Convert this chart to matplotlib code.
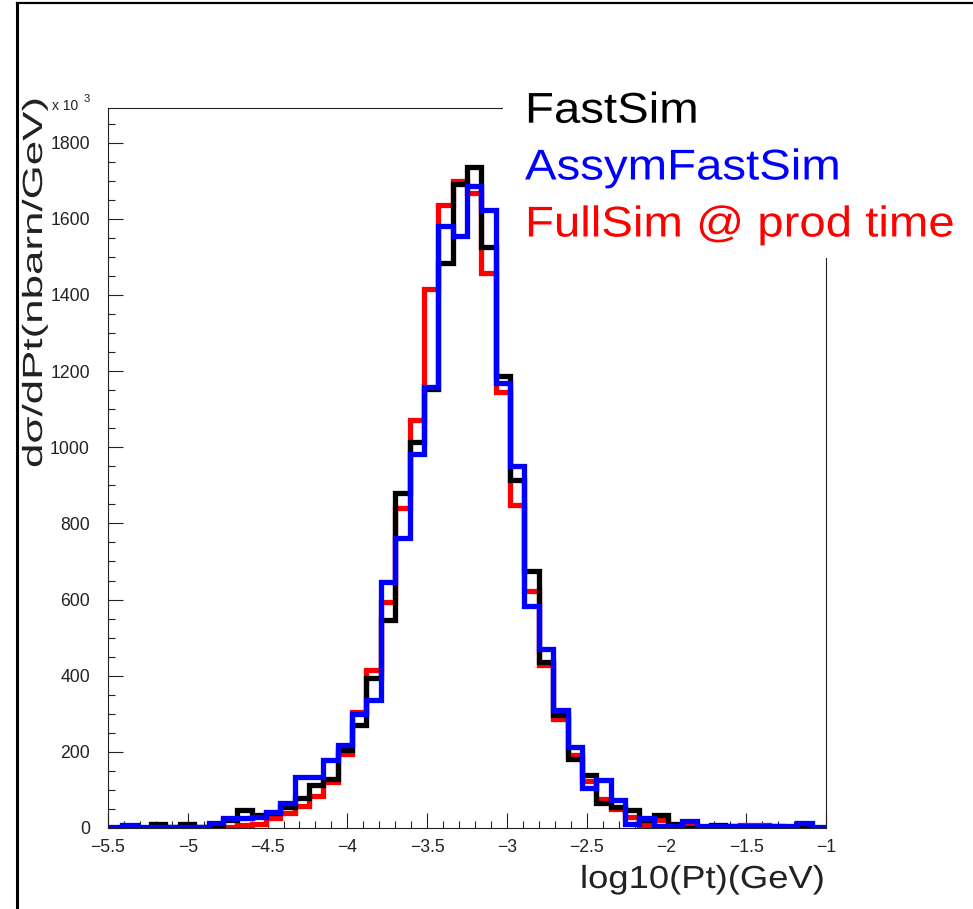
import numpy as np
import matplotlib
matplotlib.use("Agg")
import matplotlib.pyplot as plt
from matplotlib.ticker import FixedLocator, MultipleLocator, FixedFormatter
from matplotlib.patches import Rectangle
from matplotlib.lines import Line2D
from matplotlib.transforms import Affine2D
import matplotlib.patheffects as pe

plt.rcParams["font.family"] = ["Liberation Sans", "DejaVu Sans"]

# Histogram binning: 50 bins in log10(Pt)
x_min, x_max, n_bins = -5.5, -1.0, 50
edges = np.linspace(x_min, x_max, n_bins + 1)

# dsigma/dPt per bin (x 10^3 nbarn/GeV)
fastsim = [0, 3, 0, 10, 3, 10, 3, 5, 22, 48,
           35, 40, 56, 80, 113, 130, 205, 270, 393, 546,
           879, 1015, 1152, 1485, 1692, 1737, 1525, 1186, 914, 675,
           435, 297, 182, 139, 65, 56, 46, 20, 33, 10,
           0, 3, 8, 5, 3, 3, 6, 2, 2, 1]
assym_fastsim = [3, 8, 3, 3, 3, 3, 3, 12, 25, 25,
                 28, 43, 65, 133, 133, 179, 218, 300, 336, 647,
                 761, 982, 1159, 1581, 1555, 1685, 1623, 1168, 950, 582,
                 469, 311, 212, 104, 125, 73, 10, 25, 6, 6,
                 18, 4, 4, 4, 4, 4, 4, 4, 12, 3]
fullsim = [0, 0, 0, 0, 0, 0, 0, 0, 3, 8,
           10, 25, 40, 58, 85, 122, 195, 304, 416, 594,
           840, 1072, 1416, 1636, 1700, 1667, 1457, 1144, 848, 622,
           427, 286, 193, 124, 75, 49, 28, 8, 21, 7,
           5, 3, 3, 3, 7, 7, 2, 2, 2, 1]

legend_labels = ["FastSim", "AssymFastSim", "FullSim @ prod time"]
legend_colors = ["black", "blue", "red"]

y_ticks = [0, 200, 400, 600, 800, 1000, 1200, 1400, 1600, 1800]
y_tick_labels = ["0", "200", "400", "600", "800", "1000", "1200", "1400", "1600", "1800"]
x_ticks = [-5.5, -5.0, -4.5, -4.0, -3.5, -3.0, -2.5, -2.0, -1.5, -1.0]
x_tick_labels = ["\u22125.5", "\u22125", "\u22124.5", "\u22124", "\u22123.5",
                 "\u22123", "\u22122.5", "\u22122", "\u22121.5", "\u22121"]
y_top = 1891


class Stretch(pe.AbstractPathEffect):
    """Widen glyphs along the reading direction."""

    def __init__(self, sx):
        super().__init__((0, 0))
        self.sx = sx

    def draw_path(self, renderer, gc, tpath, affine, rgbFace=None):
        renderer.draw_path(gc, tpath, Affine2D().scale(self.sx, 1.0) + affine, rgbFace)


W, H = 973, 909
fig = plt.figure(figsize=(W / 100, H / 100), dpi=100)
fig.patch.set_facecolor("white")

ax = fig.add_axes([108 / W, 1 - 828 / H, (826 - 108) / W, (828 - 108) / H])

lw = 3.8
ax.stairs(fullsim, edges, baseline=None, color="red", lw=lw,
          joinstyle="miter", capstyle="butt", zorder=2.0)
ax.stairs(fastsim, edges, baseline=None, color="black", lw=lw,
          joinstyle="miter", capstyle="butt", zorder=2.1)
ax.stairs(assym_fastsim, edges, baseline=None, color="blue", lw=lw,
          joinstyle="miter", capstyle="butt", zorder=2.2)

ax.set_xlim(x_min, x_max)
ax.set_ylim(0, y_top)

ax.xaxis.set_major_locator(FixedLocator(x_ticks))
ax.xaxis.set_major_formatter(FixedFormatter(x_tick_labels))
ax.xaxis.set_minor_locator(MultipleLocator(0.1))
ax.yaxis.set_major_locator(FixedLocator(y_ticks))
ax.yaxis.set_major_formatter(FixedFormatter(y_tick_labels))
ax.yaxis.set_minor_locator(MultipleLocator(50))

ax.tick_params(which="both", direction="in", color="#222222", width=0.8,
               labelsize=12.7, labelcolor="#222222")
ax.tick_params(which="major", length=10.5)
ax.tick_params(which="minor", length=5)
ax.tick_params(axis="y", pad=13)
ax.tick_params(axis="x", pad=8)
for s in ax.spines.values():
    s.set_linewidth(0.8)
    s.set_color("#222222")

# White legend panel over the upper right corner of the frame
fig.add_artist(Rectangle((503 / W, 1 - 258 / H), 1, 1, transform=fig.transFigure,
                         facecolor="white", edgecolor="none", zorder=5))

legend_baselines = [122.7, 179.5, 236.5]
for lab, col, yb in zip(legend_labels, legend_colors, legend_baselines):
    fig.text(525 / W, 1 - yb / H, lab, color=col, fontsize=31, ha="left",
             va="baseline", zorder=6, path_effects=[Stretch(1.1)])

# Axis titles
fig.text(42 / W, 1 - 468 / H, "d\u03c3/dPt(nbarn/GeV)", rotation=90,
         rotation_mode="anchor", ha="left", va="baseline", fontsize=20,
         color="#222222", path_effects=[Stretch(1.58)])
fig.text(580 / W, 1 - 888 / H, "log10(Pt)(GeV)", ha="left", va="baseline",
         fontsize=23, color="#222222", path_effects=[Stretch(1.14)])

# Axis multiplier
fig.text(52 / W, 1 - 110 / H, "x 10", fontsize=10, ha="left", va="baseline",
         color="#222222")
fig.text(84 / W, 1 - 102 / H, "3", fontsize=8, ha="left", va="baseline",
         color="#222222")

# Canvas border
fig.add_artist(Line2D([17 / W, 17 / W], [0, 1 - 3 / H], transform=fig.transFigure,
                      color="black", lw=2.2, zorder=7))
fig.add_artist(Line2D([17 / W, 1], [1 - 3 / H, 1 - 3 / H], transform=fig.transFigure,
                      color="black", lw=1.6, zorder=7))

fig.savefig("out.png", dpi=100, facecolor="white")
